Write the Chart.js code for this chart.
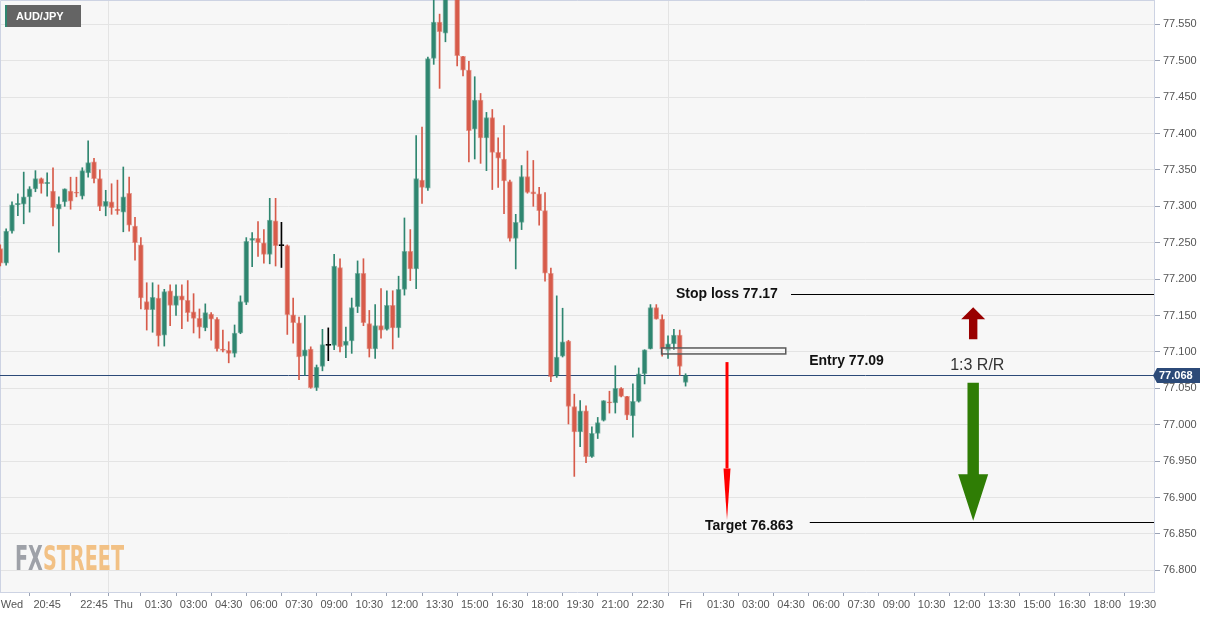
<!DOCTYPE html>
<html>
<head>
<meta charset="utf-8">
<title>AUD/JPY</title>
<script src="https://cdn.jsdelivr.net/npm/chart.js@4.4.1/dist/chart.umd.min.js"></script>
<style>
    html, body { margin: 0; padding: 0; background: #ffffff; }
    #wrap { position: relative; width: 1231px; height: 617px; }
</style>
</head>
<body>
<div id="wrap"><canvas id="chart"></canvas></div>
<script>
(function () {
    'use strict';

    // 15 minute bars, bar 0 = Thu 00:00, bar 96 = Fri 00:00
    const firstBar = -21;

    const opens = [
        77.242, 77.222, 77.266, 77.302, 77.303, 77.313, 77.324, 77.338, 77.331, 77.321,
        77.296, 77.306, 77.321, 77.319, 77.314, 77.346, 77.361, 77.338, 77.300, 77.306,
        77.296, 77.292, 77.318, 77.273, 77.247, 77.169, 77.158, 77.174, 77.123, 77.184,
        77.164, 77.177, 77.171, 77.155, 77.146, 77.133, 77.152, 77.145, 77.104, 77.102,
        77.098, 77.126, 77.168, 77.253, 77.256, 77.250, 77.234, 77.280, 77.246, 77.246,
        77.151, 77.140, 77.094, 77.104, 77.051, 77.080, 77.109, 77.109, 77.216, 77.109,
        77.115, 77.162, 77.208, 77.139, 77.104, 77.136, 77.131, 77.164, 77.133, 77.186,
        77.238, 77.214, 77.336, 77.325, 77.503, 77.553, 77.538, 77.603, 77.590, 77.506,
        77.487, 77.406, 77.446, 77.394, 77.422, 77.374, 77.365, 77.334, 77.256, 77.278,
        77.341, 77.320, 77.317, 77.294, 77.208, 77.067, 77.094, 77.115, 77.025, 76.990,
        77.019, 76.956, 76.988, 77.006, 77.031, 77.030, 77.050, 77.039, 77.012, 77.032,
        77.070, 77.104, 77.161, 77.145, 77.102, 77.111, 77.123, 77.058
    ];
    const highs = [
        77.247, 77.269, 77.306, 77.317, 77.347, 77.327, 77.349, 77.339, 77.346, 77.353,
        77.313, 77.324, 77.340, 77.340, 77.353, 77.390, 77.366, 77.350, 77.322, 77.331,
        77.336, 77.354, 77.340, 77.285, 77.257, 77.195, 77.195, 77.192, 77.186, 77.192,
        77.192, 77.192, 77.198, 77.180, 77.159, 77.166, 77.154, 77.147, 77.130, 77.114,
        77.137, 77.177, 77.257, 77.264, 77.279, 77.268, 77.311, 77.311, 77.278, 77.247,
        77.174, 77.148, 77.150, 77.107, 77.082, 77.131, 77.133, 77.234, 77.228, 77.134,
        77.174, 77.225, 77.228, 77.157, 77.165, 77.187, 77.184, 77.184, 77.204, 77.284,
        77.268, 77.397, 77.409, 77.505, 77.590, 77.564, 77.612, 77.628, 77.596, 77.506,
        77.499, 77.478, 77.455, 77.429, 77.433, 77.394, 77.411, 77.336, 77.289, 77.356,
        77.376, 77.363, 77.326, 77.319, 77.215, 77.177, 77.160, 77.116, 77.042, 77.033,
        77.026, 76.997, 77.010, 77.033, 77.046, 77.081, 77.051, 77.039, 77.056, 77.078,
        77.103, 77.165, 77.165, 77.151, 77.122, 77.131, 77.130, 77.070
    ];
    const lows = [
        77.218, 77.219, 77.263, 77.287, 77.276, 77.292, 77.320, 77.318, 77.314, 77.273,
        77.237, 77.300, 77.296, 77.313, 77.310, 77.340, 77.332, 77.294, 77.287, 77.289,
        77.289, 77.265, 77.266, 77.226, 77.159, 77.130, 77.127, 77.108, 77.108, 77.136,
        77.150, 77.132, 77.142, 77.126, 77.119, 77.129, 77.116, 77.101, 77.100, 77.085,
        77.093, 77.125, 77.165, 77.217, 77.231, 77.222, 77.221, 77.218, 77.216, 77.124,
        77.112, 77.062, 77.068, 77.050, 77.047, 77.074, 77.088, 77.103, 77.100, 77.092,
        77.098, 77.154, 77.136, 77.093, 77.091, 77.119, 77.130, 77.104, 77.120, 77.178,
        77.198, 77.187, 77.304, 77.322, 77.495, 77.462, 77.526, 77.590, 77.493, 77.479,
        77.361, 77.365, 77.359, 77.349, 77.323, 77.326, 77.290, 77.252, 77.214, 77.268,
        77.318, 77.300, 77.274, 77.197, 77.059, 77.065, 77.093, 77.001, 76.929, 76.970,
        76.948, 76.955, 76.981, 77.005, 77.016, 77.016, 77.038, 77.007, 76.983, 77.031,
        77.056, 77.104, 77.145, 77.094, 77.091, 77.103, 77.068, 77.053
    ];
    const closes = [
        77.222, 77.266, 77.302, 77.304, 77.313, 77.324, 77.338, 77.331, 77.333, 77.298,
        77.303, 77.324, 77.307, 77.318, 77.349, 77.360, 77.338, 77.300, 77.307, 77.298,
        77.294, 77.313, 77.274, 77.250, 77.174, 77.158, 77.175, 77.122, 77.183, 77.164,
        77.177, 77.171, 77.154, 77.146, 77.134, 77.154, 77.145, 77.104, 77.102, 77.098,
        77.126, 77.169, 77.252, 77.256, 77.250, 77.234, 77.281, 77.246, 77.246, 77.151,
        77.140, 77.093, 77.103, 77.051, 77.079, 77.110, 77.109, 77.218, 77.107, 77.115,
        77.161, 77.208, 77.140, 77.104, 77.136, 77.130, 77.164, 77.133, 77.186, 77.238,
        77.214, 77.338, 77.326, 77.503, 77.553, 77.540, 77.600, 77.618, 77.507, 77.487,
        77.404, 77.446, 77.394, 77.422, 77.374, 77.366, 77.335, 77.256, 77.278, 77.341,
        77.319, 77.317, 77.294, 77.208, 77.066, 77.093, 77.114, 77.025, 76.990, 77.019,
        76.956, 76.988, 77.003, 77.033, 77.030, 77.050, 77.039, 77.013, 77.032, 77.070,
        77.103, 77.161, 77.145, 77.104, 77.111, 77.123, 77.080, 77.068
    ];

    const yTickValues = [76.80, 76.85, 76.90, 76.95, 77.00, 77.05, 77.10, 77.15, 77.20, 77.25, 77.30, 77.35, 77.40, 77.45, 77.50, 77.55];

    const xTickBars = [-19, -13, -5, 0, 6, 12, 18, 24, 30, 36, 42, 48, 54, 60, 66, 72, 78, 84, 90,
        96, 102, 108, 114, 120, 126, 132, 138, 144, 150, 156, 162, 168, 174];
    const xTickLabels = ['Wed', '20:45', '22:45', 'Thu', '01:30', '03:00', '04:30', '06:00', '07:30', '09:00',
        '10:30', '12:00', '13:30', '15:00', '16:30', '18:00', '19:30', '21:00', '22:30',
        'Fri', '01:30', '03:00', '04:30', '06:00', '07:30', '09:00', '10:30', '12:00', '13:30',
        '15:00', '16:30', '18:00', '19:30'];
    const dayBreakBars = [0, 96];

    const lastPrice = 77.068;
    const stopLevel = 77.1802;
    const targetLevel = 76.8664;
    const entryZone = [77.0972, 77.1054];

    const palette = {
        up: '#2f8670',
        upEdge: 'rgba(47, 134, 112, 0.55)',
        down: '#d75b4a',
        downEdge: 'rgba(215, 91, 74, 0.55)',
        flat: '#000000',
        plotBg: '#f7f7f7',
        grid: '#e4e4e4',
        frame: '#cdd3e3',
        axisText: '#555555',
        priceLine: '#2c4a78'
    };

    function candleColor(i, edge) {
        if (opens[i] === closes[i]) return palette.flat;
        if (closes[i] > opens[i]) return edge ? palette.upEdge : palette.up;
        return edge ? palette.downEdge : palette.down;
    }

    const bodies = opens.map((o, i) => ({ x: firstBar + i, y: [o, closes[i]] }));
    const wicks = highs.map((h, i) => ({ x: firstBar + i, y: [lows[i], h] }));

    const font = "'Liberation Sans', Arial, sans-serif";

    // annotations, placed in bar / price units
    const notes = {
        stopText: { bar: 94.35, price: 77.1796, text: 'Stop loss 77.17' },
        stopLineFrom: 114.0,
        entryBox: { from: 91.9, to: 113.1 },
        entryText: { bar: 117.1, price: 77.0875, text: 'Entry 77.09' },
        targetText: { bar: 99.3, price: 76.861, text: 'Target 76.863' },
        targetLineFrom: 117.2,
        redArrow: { bar: 103.07, from: 77.086, headAt: 76.940, to: 76.869 },
        ratioText: { bar: 145.8, price: 77.0807, text: '1:3 R/R' },
        upArrow: { bar: 145.1, from: 77.1174, headAt: 77.1448, to: 77.1613 },
        downArrow: { bar: 145.1, from: 77.0577, headAt: 76.9319, to: 76.8681 }
    };

    function blockArrow(ctx, x, y0, yHead, y1, shaftHalf, headHalf, color) {
        ctx.fillStyle = color;
        ctx.beginPath();
        ctx.moveTo(x - shaftHalf, y0);
        ctx.lineTo(x + shaftHalf, y0);
        ctx.lineTo(x + shaftHalf, yHead);
        ctx.lineTo(x + headHalf, yHead);
        ctx.lineTo(x, y1);
        ctx.lineTo(x - headHalf, yHead);
        ctx.lineTo(x - shaftHalf, yHead);
        ctx.closePath();
        ctx.fill();
    }

    const chartDecor = {
        id: 'chartDecor',
        beforeDraw(chart) {
            const { ctx, chartArea: a } = chart;
            ctx.save();
            ctx.fillStyle = palette.plotBg;
            ctx.fillRect(a.left, a.top, a.right - a.left, a.bottom - a.top);
            ctx.restore();
        },
        beforeDatasetsDraw(chart) {
            const { ctx, chartArea: a, scales } = chart;
            ctx.save();
            // frame top / left
            ctx.strokeStyle = palette.frame;
            ctx.lineWidth = 1;
            ctx.beginPath();
            ctx.moveTo(a.left + 0.5, a.bottom);
            ctx.lineTo(a.left + 0.5, a.top + 0.5);
            ctx.lineTo(a.right, a.top + 0.5);
            ctx.stroke();

            // watermark
            ctx.font = "bold 34px 'DejaVu Sans Condensed', 'DejaVu Sans', sans-serif";
            ctx.textBaseline = 'alphabetic';
            const wFx = ctx.measureText('FX').width;
            const wSt = ctx.measureText('STREET').width;
            const sx = 109 / (wFx + wSt);
            ctx.translate(a.left + 15, a.bottom - 22);
            ctx.scale(sx, 1);
            ctx.fillStyle = '#9ea1a8';
            ctx.fillText('FX', 0, 0);
            ctx.fillStyle = '#f2c185';
            ctx.fillText('STREET', wFx, 0);
            ctx.setTransform(1, 0, 0, 1, 0, 0);

            // last price line
            const py = Math.round(scales.y.getPixelForValue(lastPrice)) + 0.5;
            ctx.strokeStyle = palette.priceLine;
            ctx.beginPath();
            ctx.moveTo(a.left, py);
            ctx.lineTo(a.right, py);
            ctx.stroke();
            ctx.restore();
        },
        afterDatasetsDraw(chart) {
            const { ctx, chartArea: a, scales } = chart;
            const X = (v) => scales.x.getPixelForValue(v);
            const Y = (v) => scales.y.getPixelForValue(v);
            ctx.save();

            // symbol tag
            ctx.fillStyle = '#646464';
            ctx.fillRect(a.left + 5, a.top + 5, 76, 22);
            ctx.fillStyle = palette.up;
            ctx.fillRect(a.left + 5, a.top + 5, 2, 22);
            ctx.fillStyle = '#ffffff';
            ctx.font = 'bold 11px ' + font;
            ctx.textBaseline = 'middle';
            ctx.fillText('AUD/JPY', a.left + 16, a.top + 17);

            // stop / target levels
            ctx.strokeStyle = '#000000';
            ctx.lineWidth = 1;
            const sy = Math.round(Y(stopLevel)) + 0.5;
            const ty = Math.round(Y(targetLevel)) + 0.5;
            ctx.beginPath();
            ctx.moveTo(X(notes.stopLineFrom), sy);
            ctx.lineTo(a.right, sy);
            ctx.moveTo(X(notes.targetLineFrom), ty);
            ctx.lineTo(a.right, ty);
            ctx.stroke();

            // entry zone box
            const bx0 = X(notes.entryBox.from);
            const bx1 = X(notes.entryBox.to);
            const by0 = Y(entryZone[1]);
            const by1 = Y(entryZone[0]);
            ctx.fillStyle = 'rgba(255, 255, 255, 0.25)';
            ctx.fillRect(bx0, by0, bx1 - bx0, by1 - by0);
            ctx.strokeStyle = '#5a5a5a';
            ctx.lineWidth = 1.5;
            ctx.strokeRect(bx0, by0, bx1 - bx0, by1 - by0);

            // bold labels
            ctx.fillStyle = '#111111';
            ctx.font = 'bold 14px ' + font;
            ctx.textBaseline = 'middle';
            [notes.stopText, notes.entryText, notes.targetText].forEach((t) => {
                ctx.fillText(t.text, X(t.bar), Y(t.price));
            });

            ctx.fillStyle = '#333333';
            ctx.font = '16px ' + font;
            ctx.textAlign = 'center';
            ctx.fillText(notes.ratioText.text, X(notes.ratioText.bar), Y(notes.ratioText.price));
            ctx.textAlign = 'left';

            // thin red arrow
            const ra = notes.redArrow;
            const rx = X(ra.bar);
            ctx.strokeStyle = '#ff0000';
            ctx.lineWidth = 3;
            ctx.beginPath();
            ctx.moveTo(rx, Y(ra.from));
            ctx.lineTo(rx, Y(ra.headAt));
            ctx.stroke();
            ctx.fillStyle = '#ff0000';
            ctx.beginPath();
            ctx.moveTo(rx - 3.5, Y(ra.headAt));
            ctx.lineTo(rx + 3.5, Y(ra.headAt));
            ctx.lineTo(rx, Y(ra.to));
            ctx.closePath();
            ctx.fill();

            // block arrows
            const ua = notes.upArrow;
            blockArrow(ctx, X(ua.bar), Y(ua.from), Y(ua.headAt), Y(ua.to), 4.2, 12, '#990000');
            const da = notes.downArrow;
            blockArrow(ctx, X(da.bar), Y(da.from), Y(da.headAt), Y(da.to), 5.7, 15, '#2f7d05');
            ctx.restore();
        },
        afterDraw(chart) {
            const { ctx, chartArea: a, scales } = chart;
            const y = Math.round(scales.y.getPixelForValue(lastPrice));
            ctx.save();
            ctx.fillStyle = palette.priceLine;
            ctx.beginPath();
            ctx.moveTo(a.right - 1, y + 0.5);
            ctx.lineTo(a.right + 3, y - 7);
            ctx.lineTo(a.right + 46, y - 7);
            ctx.lineTo(a.right + 46, y + 8);
            ctx.lineTo(a.right + 3, y + 8);
            ctx.closePath();
            ctx.fill();
            ctx.fillStyle = '#ffffff';
            ctx.font = 'bold 11px ' + font;
            ctx.textBaseline = 'middle';
            ctx.fillText(lastPrice.toFixed(3), a.right + 5, y + 1);
            ctx.restore();
        }
    };

    Chart.defaults.font.family = font;
    Chart.defaults.font.size = 11;
    Chart.defaults.color = palette.axisText;

    new Chart(document.getElementById('chart'), {
        type: 'bar',
        data: {
            datasets: [
                {
                    label: 'body',
                    data: bodies,
                    grouped: false,
                    barThickness: 5,
                    minBarLength: 1,
                    borderWidth: 1,
                    borderSkipped: false,
                    backgroundColor: (c) => candleColor(c.dataIndex, false),
                    borderColor: (c) => candleColor(c.dataIndex, true)
                },
                {
                    label: 'wick',
                    data: wicks,
                    grouped: false,
                    barThickness: 1,
                    borderWidth: 0,
                    backgroundColor: (c) => candleColor(c.dataIndex, false)
                }
            ]
        },
        options: {
            responsive: true,
            maintainAspectRatio: false,
            animation: false,
            devicePixelRatio: 1,
            layout: { padding: 0, autoPadding: false },
            plugins: {
                legend: { display: false },
                tooltip: { enabled: false }
            },
            scales: {
                x: {
                    type: 'linear',
                    min: -21.05,
                    max: 175.97,
                    offset: false,
                    afterBuildTicks: (scale) => {
                        scale.ticks = xTickBars.map((v) => ({ value: v }));
                    },
                    afterFit: (scale) => {
                        scale.height = 25;
                        scale.paddingLeft = 0;
                        scale.paddingRight = 0;
                    },
                    ticks: {
                        autoSkip: false,
                        maxRotation: 0,
                        padding: 2,
                        color: palette.axisText,
                        callback: (v, i) => xTickLabels[i]
                    },
                    grid: {
                        color: (c) => (c.tick && dayBreakBars.includes(c.tick.value) ? palette.grid : 'rgba(0,0,0,0)'),
                        tickColor: '#9aa2b4',
                        tickLength: 4
                    },
                    border: { color: palette.frame }
                },
                y: {
                    position: 'right',
                    min: 76.7702,
                    max: 77.5834,
                    afterBuildTicks: (scale) => {
                        scale.ticks = yTickValues.map((v) => ({ value: v }));
                    },
                    afterFit: (scale) => {
                        scale.width = 77;
                        scale.paddingTop = 0;
                        scale.paddingBottom = 0;
                    },
                    ticks: {
                        padding: 3,
                        color: palette.axisText,
                        callback: (v) => Number(v).toFixed(3)
                    },
                    grid: {
                        color: palette.grid,
                        tickColor: '#9aa2b4',
                        tickLength: 6
                    },
                    border: { color: palette.frame }
                }
            }
        },
        plugins: [chartDecor]
    });
})();
</script>
</body>
</html>
